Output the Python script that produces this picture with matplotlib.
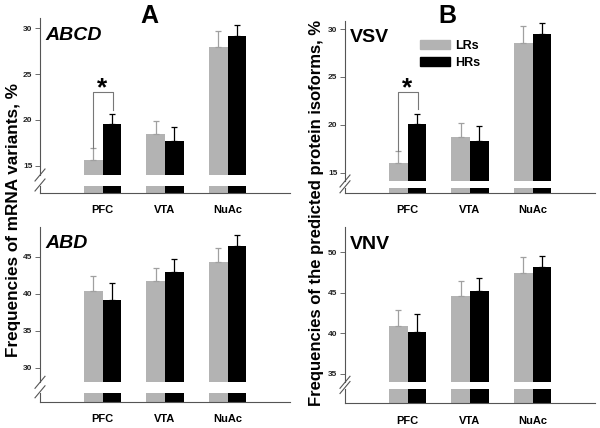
import matplotlib
matplotlib.use('Agg')
import matplotlib.pyplot as plt
from matplotlib.lines import Line2D
from matplotlib.patches import Patch
import numpy as np

plt.rcParams['font.family'] = ['Liberation Sans', 'DejaVu Sans']
plt.rcParams['font.weight'] = 'bold'

regions = ['PFC', 'VTA', 'NuAc']

# panel A (mRNA variants)
abcd_lr = [15.65, 18.45, 27.9]
abcd_lr_err = [1.25, 1.4, 1.8]
abcd_hr = [19.55, 17.75, 29.15]
abcd_hr_err = [1.1, 1.5, 1.15]

abd_lr = [40.35, 41.65, 44.3]
abd_lr_err = [2.0, 1.75, 1.9]
abd_hr = [39.1, 42.95, 46.4]
abd_hr_err = [2.3, 1.75, 1.5]

# panel B (protein isoforms)
vsv_lr = [16.05, 18.7, 28.5]
vsv_lr_err = [1.25, 1.5, 1.8]
vsv_hr = [20.05, 18.3, 29.5]
vsv_hr_err = [1.05, 1.55, 1.1]

vnv_lr = [40.95, 44.6, 47.45]
vnv_lr_err = [1.95, 1.8, 2.0]
vnv_hr = [40.2, 45.2, 48.15]
vnv_hr_err = [2.2, 1.6, 1.35]

GRAY = '#b3b3b3'
SPINE = '#555555'
W, H = 600, 428

fig = plt.figure(figsize=(6, 4.28), dpi=100)


def px_axes(l, t, r, b):
    return fig.add_axes([l / W, 1 - b / H, (r - l) / W, (b - t) / H])


def fig_line(xs, ys, **kw):
    fig.add_artist(Line2D([x / W for x in xs], [1 - y / H for y in ys],
                          transform=fig.transFigure, **kw))


def panel(box, stub, ylim, yticks, lr, lr_err, hr, hr_err, name, italic):
    l, t, r, b = box
    x = np.arange(1, len(regions) + 1)
    ax = px_axes(l, t, r, b)
    ax.bar(x - 0.15, lr, 0.3, color=GRAY,
           yerr=[np.zeros(3), lr_err],
           error_kw=dict(ecolor='#a0a0a0', elinewidth=0.9, capsize=2.2, capthick=0.9))
    ax.bar(x + 0.15, hr, 0.3, color='black',
           yerr=[np.zeros(3), hr_err],
           error_kw=dict(ecolor='black', elinewidth=0.9, capsize=2.2, capthick=0.9))
    ax.set_xlim(0, 4)
    ax.set_ylim(*ylim)
    ax.set_yticks(yticks)
    ax.set_xticks([])
    for s in ['top', 'right', 'bottom']:
        ax.spines[s].set_visible(False)
    ax.spines['left'].set_color(SPINE)
    ax.spines['left'].set_linewidth(0.8)
    ax.tick_params(axis='y', length=3.5, width=0.6, color=SPINE, labelsize=6,
                   labelcolor='#222222', pad=2)
    for lab in ax.get_yticklabels():
        lab.set_fontweight('bold')

    st, sb = stub
    ax2 = px_axes(l, st, r, sb)
    ax2.bar(x - 0.15, [1] * 3, 0.3, color=GRAY)
    ax2.bar(x + 0.15, [1] * 3, 0.3, color='black')
    ax2.set_xlim(0, 4)
    ax2.set_ylim(0, 1)
    ax2.set_yticks([])
    ax2.set_xticks(x)
    ax2.set_xticklabels(regions, fontsize=8, fontweight='bold')
    ax2.tick_params(axis='x', length=0, pad=9)
    for s in ['top', 'right']:
        ax2.spines[s].set_visible(False)
    for s in ['left', 'bottom']:
        ax2.spines[s].set_color(SPINE)
        ax2.spines[s].set_linewidth(0.8)

    # axis break marks
    for cy in (b, st - 1.5):
        fig_line([l - 5, l + 5], [cy + 6, cy - 6], color=SPINE, lw=0.8)

    fig.text((l + 5) / W, 1 - (t + 17) / H, name, fontsize=14, fontweight='bold',
             style='italic' if italic else 'normal', va='center', ha='left')
    return ax


def bracket(ax, left_bot, right_bot, top):
    ax.plot([0.84, 0.84, 1.17, 1.17], [left_bot, top, top, right_bot],
            color='#777777', lw=0.8, clip_on=False)
    ax.annotate('*', (1.0, top), xytext=(0, 3), textcoords='offset points',
                fontsize=19, fontweight='bold', ha='center', va='center')


axA1 = panel((40, 18, 290, 175), (186.5, 192.7), (14, 31.1), [15, 20, 25, 30],
             abcd_lr, abcd_lr_err, abcd_hr, abcd_hr_err, 'ABCD', True)
bracket(axA1, abcd_lr[0] + abcd_lr_err[0], 21.1, 23.0)

axA2 = panel((40, 227, 290, 382.3), (393.3, 401.7), (28, 49), [30, 35, 40, 45],
             abd_lr, abd_lr_err, abd_hr, abd_hr_err, 'ABD', True)

axB1 = panel((345, 20.7, 595, 181), (188.3, 192.7), (14.13, 30.87), [15, 20, 25, 30],
             vsv_lr, vsv_lr_err, vsv_hr, vsv_hr_err, 'VSV', False)
bracket(axB1, vsv_lr[0] + vsv_lr_err[0], 21.65, 23.4)

axB2 = panel((345, 227.3, 595, 382.3), (389, 403), (33.97, 53.08), [35, 40, 45, 50],
             vnv_lr, vnv_lr_err, vnv_hr, vnv_hr_err, 'VNV', False)

handles = [Patch(color=GRAY), Patch(color='black')]
axB1.legend(handles, ['LRs', 'HRs'], loc='upper left', bbox_to_anchor=(0.3, 0.88),
            frameon=False, handlelength=2.4, handleheight=0.7,
            handletextpad=0.4, labelspacing=0.4, borderpad=0, borderaxespad=0,
            prop=dict(weight='bold', size=9))

fig.text(149 / W, 1 - 16 / H, 'A', fontsize=18, fontweight='bold', ha='center', va='center')
fig.text(447 / W, 1 - 16 / H, 'B', fontsize=18, fontweight='bold', ha='center', va='center')

fig.text(14 / W, 1 - 220 / H, 'Frequencies of mRNA variants, %', rotation=90,
         fontsize=12.3, fontweight='bold', ha='center', va='center')
fig.text(317 / W, 1 - 213 / H, 'Frequencies of the predicted protein isoforms, %',
         rotation=90, fontsize=12.0, fontweight='bold', ha='center', va='center')

fig.savefig('out.png', dpi=100)
